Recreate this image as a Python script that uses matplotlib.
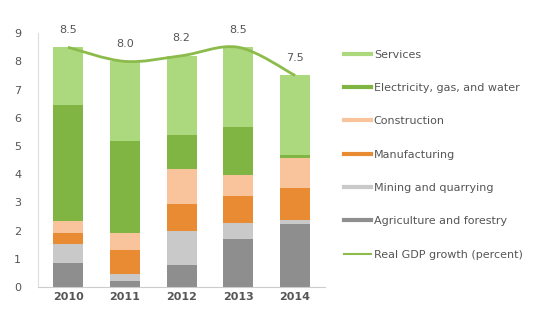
import numpy as np
import matplotlib
matplotlib.use("Agg")
import matplotlib.pyplot as plt
from matplotlib.lines import Line2D
from matplotlib.path import Path
from matplotlib.patches import PathPatch

years = ['2010', '2011', '2012', '2013', '2014']
agriculture = [0.85, 0.21, 0.77, 1.72, 2.25]
mining = [0.67, 0.26, 1.21, 0.55, 0.12]
manufacturing = [0.38, 0.86, 0.98, 0.95, 1.13]
construction = [0.43, 0.59, 1.21, 0.74, 1.06]
electricity = [4.12, 3.27, 1.22, 1.70, 0.12]
services = [2.05, 2.81, 2.81, 2.84, 2.82]
gdp = [8.5, 8.0, 8.2, 8.5, 7.5]
gdp_labels = ['8.5', '8.0', '8.2', '8.5', '7.5']

series = [
    ('Agriculture and forestry', agriculture, '#8e8e8e'),
    ('Mining and quarrying', mining, '#c9c9c9'),
    ('Manufacturing', manufacturing, '#e98b33'),
    ('Construction', construction, '#f9c49c'),
    ('Electricity, gas, and water', electricity, '#80b443'),
    ('Services', services, '#acd97d'),
]
line_color = '#8cbb4c'
text_color = '#555555'

fig = plt.figure(figsize=(5.42, 3.10), dpi=100)
ax = fig.add_axes([0.070, 0.074, 0.530, 0.819])

x = np.arange(len(years))
bottom = np.zeros(len(years))
for name, vals, col in series:
    ax.bar(x, vals, 0.53, bottom=bottom, color=col, edgecolor='none', zorder=2)
    bottom += np.array(vals)

# smooth GDP line (cubic Bezier through the yearly values)
pts = np.column_stack([x, gdp]).astype(float)
verts = [tuple(pts[0])]
codes = [Path.MOVETO]
for i in range(len(pts) - 1):
    p0 = pts[i - 1] if i > 0 else pts[i]
    p1, p2 = pts[i], pts[i + 1]
    p3 = pts[i + 2] if i + 2 < len(pts) else pts[i + 1]
    c1 = p1 + (p2 - p0) / 6
    c2 = p2 - (p3 - p1) / 6
    verts += [tuple(c1), tuple(c2), tuple(p2)]
    codes += [Path.CURVE4] * 3
ax.add_patch(PathPatch(Path(verts, codes), facecolor='none', edgecolor=line_color,
                       lw=2, zorder=3))

for xi, g, lab in zip(x, gdp, gdp_labels):
    ax.text(xi, g + 0.45, lab, ha='center', va='bottom', fontsize=8,
            color=text_color, clip_on=False)

ax.set_xlim(-0.53, 4.53)
ax.set_ylim(0, 9)
ax.set_yticks(range(10))
ax.set_xticks(x)
ax.set_xticklabels(years, fontweight='bold')
ax.tick_params(length=0, labelsize=8, colors=text_color)
ax.tick_params(axis='y', pad=12)
for s in ['top', 'right']:
    ax.spines[s].set_visible(False)
ax.spines['left'].set_color('#dddddd')
ax.spines['bottom'].set_color('#cccccc')

handles = [Line2D([], [], color=col, lw=3) for _, _, col in reversed(series)]
handles.append(Line2D([], [], color=line_color, lw=1.5))
labels = [n for n, _, _ in reversed(series)] + ['Real GDP growth (percent)']
fig.legend(handles, labels, loc='upper left', bbox_to_anchor=(0.616, 0.872),
           frameon=False, fontsize=8, handlelength=2.4, handletextpad=0.3,
           labelspacing=2.1, labelcolor=text_color)

fig.savefig('out.png', dpi=100)
